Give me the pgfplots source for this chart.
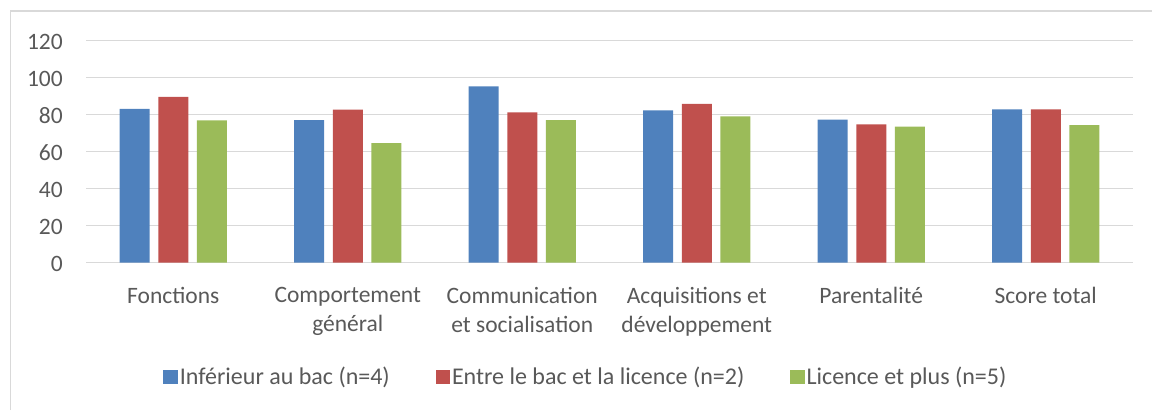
\documentclass[border=0pt]{standalone}
\usepackage{pgfplots}
\pgfplotsset{compat=1.18}
\usepackage{fontspec}
\setmainfont{Carlito}
\definecolor{cblue}{HTML}{4F81BD}
\definecolor{cred}{HTML}{C0504D}
\definecolor{cgreen}{HTML}{9BBB59}
\definecolor{ctext}{HTML}{595959}
\definecolor{cgrid}{HTML}{D9D9D9}
\begin{document}
\begin{tikzpicture}
\useasboundingbox (0,0) rectangle (1152pt,410pt);
\draw[cgrid, line width=1.2pt] (10.5pt,0pt) -- (10.5pt,399pt) -- (1152pt,399pt);
\begin{axis}[
  at={(86pt,147.3pt)}, anchor=south west,
  scale only axis, width=1047pt, height=222pt,
  xmin=-0.5, xmax=5.5, ymin=0, ymax=120,
  ytick={0,20,...,120},
  xtick={0,1,2,3,4,5},
  xticklabels={Fonctions,{Comportement\\général},{Communication\\et socialisation},{Acquisitions et\\développement},Parentalité,Score total},
  axis line style={draw=none},
  major tick length=0pt,
  ymajorgrids, grid style={cgrid, line width=1.4pt},
  ybar=8.6pt, bar width=30pt,
  /pgf/number format/assume math mode=true,
  tick label style={font=\fontsize{23.5}{29}\selectfont, text=ctext},
  yticklabel style={anchor=east, inner sep=0pt, xshift=-23pt, yshift=-1pt},
  xticklabel style={anchor=north, inner sep=0pt, align=center, yshift=-24pt},
  legend style={at={(axis description cs:0.4775,-0.514)}, anchor=center, draw=none,
    legend columns=3, font=\fontsize{24}{29}\selectfont, text=ctext,
    nodes={inner sep=2pt},
    /tikz/every even column/.style={column sep=43.7pt},
    legend cell align=left, inner sep=0pt},
  legend image code/.code={\fill[#1] (0pt,-7.3pt) rectangle (14.5pt,7.3pt);},
]
\addplot[fill=cblue, draw=none] coordinates {(0,83.2) (1,77.1) (2,95.3) (3,82.3) (4,77.3) (5,82.9)};
\addplot[fill=cred, draw=none] coordinates {(0,89.7) (1,82.7) (2,81.3) (3,85.8) (4,74.8) (5,82.9)};
\addplot[fill=cgreen, draw=none] coordinates {(0,76.9) (1,64.7) (2,77.1) (3,79.1) (4,73.5) (5,74.4)};
\legend{Inférieur au bac (n=4),Entre le bac et la licence (n=2),Licence et plus (n=5)}
\end{axis}
\end{tikzpicture}
\end{document}
